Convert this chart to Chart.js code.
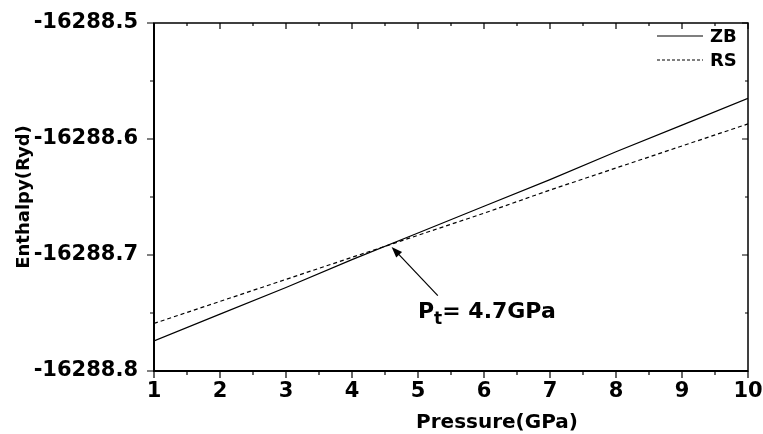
<!DOCTYPE html>
<html>
<head>
<meta charset="utf-8">
<script src="https://cdn.jsdelivr.net/npm/chart.js@4"></script>
<style>
  html, body { margin: 0; padding: 0; background: #fff; }
</style>
</head>
<body>
<canvas id="chartEntalpia" width="763" height="434"></canvas>
<script>
// Datos
const presion = [1, 2, 3, 4, 5, 6, 7, 8, 9, 10];
const entalpiaZB = [-16288.774, -16288.751, -16288.728, -16288.704, -16288.681,
                    -16288.658, -16288.635, -16288.611, -16288.588, -16288.565];
const entalpiaRS = [-16288.759, -16288.740, -16288.721, -16288.702, -16288.683,
                    -16288.664, -16288.644, -16288.625, -16288.606, -16288.587];
const ticksX = [1, 2, 3, 4, 5, 6, 7, 8, 9, 10];
const ticksY = [-16288.8, -16288.7, -16288.6, -16288.5];
const menoresX = [1.5, 2.5, 3.5, 4.5, 5.5, 6.5, 7.5, 8.5, 9.5];
const menoresY = [-16288.75, -16288.65, -16288.55];

// Flecha de transición (coordenadas en unidades de datos)
const flechaPunta = { x: 4.6, y: -16288.693 };
const flechaCola = { x: 5.3, y: -16288.735 };
const textoTransicion = { x: 5.0, y: -16288.754 };

Chart.defaults.font.family = "'DejaVu Sans', sans-serif";
Chart.defaults.font.weight = "bold";
Chart.defaults.color = "#000";

// Sin relleno extra por las etiquetas: el área la fija layout.padding
function sinRelleno(s) {
  s.paddingTop = 0; s.paddingBottom = 0; s.paddingLeft = 0; s.paddingRight = 0;
}

// Marco, marcas, leyenda, títulos y anotación
const marcos = {
  id: "marcos",
  afterDraw(chart) {
    const { ctx, chartArea: a, scales: { x, y } } = chart;
    ctx.save();
    ctx.strokeStyle = "#000";
    ctx.fillStyle = "#000";

    // caja
    ctx.lineWidth = 1.5;
    ctx.strokeRect(a.left, a.top, a.right - a.left, a.bottom - a.top);
    ctx.lineWidth = 2;
    ctx.beginPath();
    ctx.moveTo(a.left, a.top);
    ctx.lineTo(a.left, a.bottom);
    ctx.lineTo(a.right, a.bottom);
    ctx.stroke();

    // marcas
    ctx.lineWidth = 1.2;
    ctx.beginPath();
    ticksX.forEach(v => {
      const px = x.getPixelForValue(v);
      ctx.moveTo(px, a.bottom); ctx.lineTo(px, a.bottom + 7);
      ctx.moveTo(px, a.top); ctx.lineTo(px, a.top + 6);
    });
    menoresX.forEach(v => {
      const px = x.getPixelForValue(v);
      ctx.moveTo(px, a.bottom); ctx.lineTo(px, a.bottom + 4);
      ctx.moveTo(px, a.top); ctx.lineTo(px, a.top + 3);
    });
    ticksY.forEach(v => {
      const py = y.getPixelForValue(v);
      ctx.moveTo(a.left, py); ctx.lineTo(a.left - 7, py);
      ctx.moveTo(a.right, py); ctx.lineTo(a.right - 6, py);
    });
    menoresY.forEach(v => {
      const py = y.getPixelForValue(v);
      ctx.moveTo(a.left, py); ctx.lineTo(a.left - 4, py);
      ctx.moveTo(a.right, py); ctx.lineTo(a.right - 3, py);
    });
    ctx.stroke();

    // leyenda
    ctx.lineWidth = 1.2;
    ctx.beginPath();
    ctx.moveTo(657, 36); ctx.lineTo(703, 36);
    ctx.stroke();
    ctx.setLineDash([3, 2]);
    ctx.beginPath();
    ctx.moveTo(657, 60); ctx.lineTo(703, 60);
    ctx.stroke();
    ctx.setLineDash([]);
    ctx.font = "bold 18px 'DejaVu Sans'";
    ctx.textAlign = "left";
    ctx.textBaseline = "middle";
    ctx.fillText("ZB", 710, 37);
    ctx.fillText("RS", 710, 61);

    // títulos de ejes
    ctx.font = "bold 20px 'DejaVu Sans'";
    ctx.textAlign = "center";
    ctx.textBaseline = "alphabetic";
    ctx.fillText("Pressure(GPa)", 497, 428);
    ctx.font = "bold 18px 'DejaVu Sans'";
    ctx.save();
    ctx.translate(29, (a.top + a.bottom) / 2);
    ctx.rotate(-Math.PI / 2);
    ctx.fillText("Enthalpy(Ryd)", 0, 0);
    ctx.restore();

    // flecha de la transición
    const px1 = x.getPixelForValue(flechaCola.x), py1 = y.getPixelForValue(flechaCola.y);
    const px2 = x.getPixelForValue(flechaPunta.x), py2 = y.getPixelForValue(flechaPunta.y);
    const ang = Math.atan2(py2 - py1, px2 - px1);
    ctx.lineWidth = 1.2;
    ctx.beginPath();
    ctx.moveTo(px1, py1);
    ctx.lineTo(px2 - 8 * Math.cos(ang), py2 - 8 * Math.sin(ang));
    ctx.stroke();
    ctx.beginPath();
    ctx.moveTo(px2, py2);
    ctx.lineTo(px2 - 11 * Math.cos(ang) + 4 * Math.sin(ang), py2 - 11 * Math.sin(ang) - 4 * Math.cos(ang));
    ctx.lineTo(px2 - 11 * Math.cos(ang) - 4 * Math.sin(ang), py2 - 11 * Math.sin(ang) + 4 * Math.cos(ang));
    ctx.closePath();
    ctx.fill();

    // texto P_t = 4.7GPa
    let tx = x.getPixelForValue(textoTransicion.x);
    const ty = y.getPixelForValue(textoTransicion.y);
    ctx.textAlign = "left";
    ctx.font = "bold 22px 'DejaVu Sans'";
    ctx.fillText("P", tx, ty);
    tx += ctx.measureText("P").width;
    ctx.font = "bold 17px 'DejaVu Sans'";
    ctx.fillText("t", tx, ty + 6);
    tx += ctx.measureText("t").width;
    ctx.font = "bold 22px 'DejaVu Sans'";
    ctx.fillText("= 4.7GPa", tx, ty);

    ctx.restore();
  }
};

const ctx1 = document.getElementById("chartEntalpia").getContext("2d");
new Chart(ctx1, {
  type: "line",
  data: {
    datasets: [{
      label: "ZB",
      data: presion.map((p, i) => ({ x: p, y: entalpiaZB[i] })),
      borderColor: "#000",
      borderWidth: 1.2,
      pointRadius: 0,
      tension: 0
    }, {
      label: "RS",
      data: presion.map((p, i) => ({ x: p, y: entalpiaRS[i] })),
      borderColor: "#000",
      borderWidth: 1.2,
      borderDash: [4, 3],
      pointRadius: 0,
      tension: 0
    }]
  },
  options: {
    responsive: false,
    animation: false,
    layout: { padding: { top: 23, right: 15, left: 0, bottom: 0 } },
    plugins: { legend: { display: false }, tooltip: { enabled: false } },
    scales: {
      x: {
        type: "linear",
        min: 1,
        max: 10,
        afterBuildTicks: s => { s.ticks = ticksX.map(v => ({ value: v })); },
        afterFit: s => { s.height = 63; sinRelleno(s); },
        grid: { display: false, drawTicks: false },
        border: { display: false },
        ticks: { padding: 8, font: { size: 21, weight: "bold" }, callback: v => String(v) }
      },
      y: {
        min: -16288.8,
        max: -16288.5,
        afterBuildTicks: s => { s.ticks = ticksY.map(v => ({ value: v })); },
        afterFit: s => { s.width = 154; sinRelleno(s); },
        grid: { display: false, drawTicks: false },
        border: { display: false },
        ticks: { padding: 16, font: { size: 21, weight: "bold" }, callback: v => v.toFixed(1) }
      }
    }
  },
  plugins: [marcos]
});
</script>
</body>
</html>
